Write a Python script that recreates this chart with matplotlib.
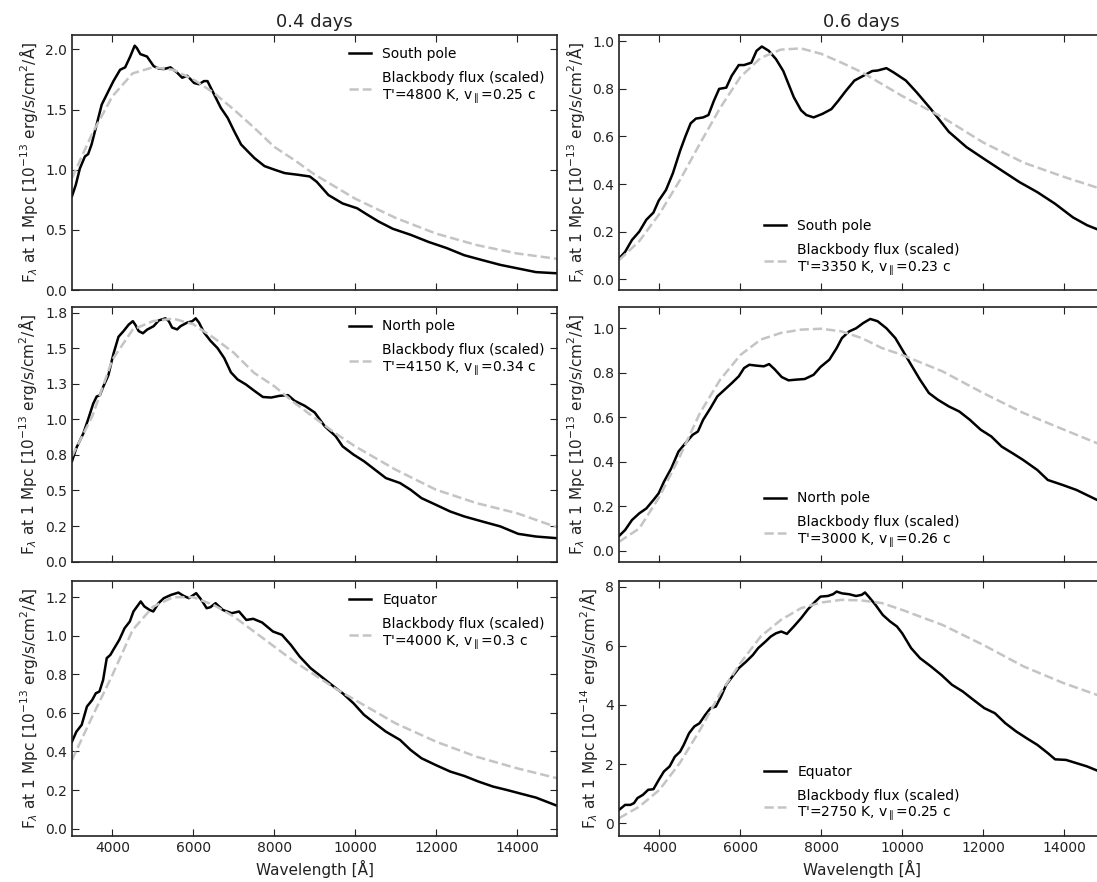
import numpy as np
import matplotlib.pyplot as plt
from matplotlib.ticker import FixedLocator, FixedFormatter

# ---- 0.4 days, south pole
wl_s04 = [3000, 3095, 3195, 3320, 3400, 3485, 3610, 3735, 3860, 4025, 4190, 4315, 4440, 4550, 4605,
          4690, 4855, 5020, 5145, 5270, 5435, 5600, 5725, 5850, 6020, 6140, 6265, 6350, 6515, 6680,
          6850, 7010, 7180, 7345, 7510, 7760, 8010, 8260, 8590, 8880, 9050, 9340, 9690, 10050,
          10310, 10580, 10930, 11370, 11820, 12260, 12700, 13140, 13590, 14030, 14470, 15000]
fl_s04 = [0.78, 0.875, 1.01, 1.11, 1.13, 1.21, 1.375, 1.54, 1.625, 1.736, 1.83, 1.85, 1.94, 2.03,
          2.01, 1.96, 1.94, 1.86, 1.84, 1.836, 1.85, 1.806, 1.764, 1.78, 1.72, 1.71, 1.736, 1.736,
          1.625, 1.514, 1.43, 1.32, 1.21, 1.153, 1.097, 1.03, 1.0, 0.972, 0.958, 0.944, 0.90, 0.79,
          0.72, 0.68, 0.625, 0.57, 0.51, 0.46, 0.40, 0.35, 0.29, 0.25, 0.21, 0.18, 0.15, 0.14]

# ---- 0.4 days, north pole
wl_n04 = [3000, 3110, 3280, 3400, 3525, 3610, 3690, 3775, 3900, 4025, 4150, 4275, 4400, 4505, 4565,
          4650, 4755, 4855, 5020, 5145, 5310, 5395, 5475, 5600, 5685, 5850, 5975, 6060, 6140, 6265,
          6430, 6600, 6765, 6930, 7095, 7300, 7510, 7720, 7925, 8130, 8340, 8505, 8755, 9000, 9250,
          9520, 9690, 9960, 10220, 10490, 10760, 11110, 11370, 11640, 11990, 12350, 12700, 13140,
          13590, 14030, 14470, 15000]
fl_n04 = [0.705, 0.80, 0.90, 1.0, 1.11, 1.16, 1.17, 1.23, 1.31, 1.46, 1.58, 1.62, 1.665, 1.69, 1.665,
          1.62, 1.605, 1.63, 1.655, 1.695, 1.71, 1.69, 1.645, 1.632, 1.655, 1.68, 1.69, 1.71, 1.68,
          1.61, 1.55, 1.50, 1.43, 1.33, 1.28, 1.245, 1.20, 1.157, 1.153, 1.165, 1.17, 1.13, 1.095,
          1.048, 0.951, 0.881, 0.81, 0.752, 0.705, 0.646, 0.587, 0.552, 0.505, 0.446, 0.40, 0.352,
          0.317, 0.282, 0.247, 0.195, 0.176, 0.164]

# ---- 0.4 days, equator
wl_e04 = [3000, 3110, 3240, 3370, 3500, 3590, 3680, 3770, 3860, 3950, 4030, 4170, 4300, 4430, 4520,
          4700, 4790, 4920, 5010, 5140, 5270, 5450, 5630, 5760, 5890, 6070, 6200, 6330, 6420, 6550,
          6730, 6950, 7130, 7310, 7480, 7700, 7970, 8190, 8410, 8630, 8900, 9160, 9470, 9690, 9960,
          10220, 10490, 10760, 11110, 11370, 11640, 11990, 12350, 12700, 13050, 13410, 13760,
          14120, 14470, 15000]
fl_e04 = [0.451, 0.503, 0.538, 0.633, 0.667, 0.702, 0.711, 0.771, 0.884, 0.901, 0.93, 0.979, 1.039,
          1.074, 1.126, 1.178, 1.152, 1.134, 1.126, 1.169, 1.195, 1.212, 1.224, 1.207, 1.195, 1.221,
          1.186, 1.143, 1.148, 1.169, 1.134, 1.117, 1.126, 1.082, 1.088, 1.069, 1.022, 1.005, 0.953,
          0.892, 0.832, 0.789, 0.737, 0.702, 0.65, 0.59, 0.546, 0.503, 0.46, 0.408, 0.365, 0.33,
          0.296, 0.273, 0.244, 0.218, 0.20, 0.18, 0.161, 0.118]

# ---- 0.6 days, south pole
wl_s06 = [3000, 3150, 3320, 3500, 3675, 3850, 3980, 4160, 4330, 4510, 4640, 4770, 4900, 5080, 5210,
          5345, 5475, 5650, 5785, 5960, 6090, 6270, 6400, 6530, 6700, 6880, 7060, 7190, 7320, 7500,
          7630, 7810, 8030, 8250, 8420, 8600, 8820, 9040, 9260, 9390, 9610, 9780, 10090, 10360,
          10710, 11150, 11590, 12030, 12460, 12900, 13340, 13780, 14220, 14570, 14820, 15000]
fl_s06 = [0.087, 0.115, 0.165, 0.20, 0.25, 0.28, 0.33, 0.375, 0.445, 0.54, 0.60, 0.655, 0.675, 0.68,
          0.69, 0.75, 0.80, 0.805, 0.855, 0.90, 0.90, 0.91, 0.96, 0.978, 0.96, 0.925, 0.875, 0.82,
          0.765, 0.71, 0.69, 0.68, 0.695, 0.715, 0.75, 0.79, 0.835, 0.855, 0.875, 0.877, 0.887,
          0.87, 0.835, 0.785, 0.715, 0.62, 0.555, 0.505, 0.457, 0.408, 0.366, 0.317, 0.26, 0.227,
          0.21, 0.198]

# ---- 0.6 days, north pole
wl_n06 = [3000, 3150, 3320, 3500, 3675, 3850, 3980, 4110, 4290, 4470, 4640, 4820, 4950, 5080, 5260,
          5430, 5610, 5790, 5960, 6090, 6220, 6400, 6580, 6710, 6840, 7020, 7190, 7370, 7590, 7810,
          7980, 8200, 8380, 8510, 8690, 8860, 9040, 9210, 9390, 9610, 9830, 10000, 10220, 10440,
          10660, 10880, 11150, 11410, 11670, 11940, 12200, 12460, 12730, 12990, 13340, 13600,
          13960, 14310, 14820, 15000]
fl_n06 = [0.066, 0.093, 0.138, 0.168, 0.19, 0.228, 0.258, 0.31, 0.37, 0.446, 0.483, 0.521, 0.536,
          0.589, 0.641, 0.694, 0.724, 0.754, 0.784, 0.821, 0.836, 0.832, 0.829, 0.839, 0.817, 0.781,
          0.766, 0.769, 0.772, 0.791, 0.826, 0.859, 0.911, 0.956, 0.986, 1.0, 1.024, 1.042, 1.032,
          1.0, 0.956, 0.904, 0.836, 0.769, 0.709, 0.679, 0.649, 0.626, 0.589, 0.544, 0.514, 0.468,
          0.438, 0.408, 0.363, 0.318, 0.296, 0.273, 0.228, 0.215]

# ---- 0.6 days, equator (units of 1e-14)
wl_e06 = [3000, 3150, 3280, 3370, 3455, 3590, 3720, 3850, 3980, 4110, 4250, 4380, 4510, 4600, 4730,
          4860, 4990, 5130, 5260, 5390, 5520, 5650, 5830, 5960, 6140, 6310, 6440, 6620, 6750, 6880,
          7010, 7150, 7320, 7500, 7670, 7850, 7980, 8160, 8290, 8380, 8510, 8690, 8860, 9000, 9080,
          9170, 9340, 9520, 9700, 9870, 10000, 10220, 10440, 10710, 10970, 11230, 11500, 11760,
          12030, 12290, 12550, 12820, 13080, 13340, 13600, 13780, 14050, 14310, 14570, 14820, 15000]
fl_e06 = [0.45, 0.62, 0.62, 0.68, 0.85, 0.96, 1.13, 1.15, 1.46, 1.75, 1.92, 2.25, 2.42, 2.65, 3.04,
          3.27, 3.38, 3.66, 3.89, 3.94, 4.28, 4.68, 5.01, 5.24, 5.46, 5.69, 5.92, 6.14, 6.31, 6.42,
          6.48, 6.40, 6.65, 6.93, 7.23, 7.49, 7.66, 7.68, 7.74, 7.83, 7.77, 7.74, 7.68, 7.72, 7.80,
          7.66, 7.38, 7.04, 6.82, 6.65, 6.42, 5.92, 5.58, 5.30, 5.01, 4.68, 4.45, 4.17, 3.89, 3.72,
          3.38, 3.10, 2.87, 2.65, 2.37, 2.16, 2.14, 2.03, 1.92, 1.78, 1.70]

# ---- scaled blackbody curves
wl_bb = [3000, 3500, 4000, 4500, 5000, 5500, 6000, 6500, 7000, 7500, 8000, 8500, 9000, 9500, 10000,
         11000, 12000, 13000, 14000, 15000]
bb_s04 = [0.93, 1.30, 1.61, 1.80, 1.85, 1.83, 1.75, 1.64, 1.50, 1.35, 1.19, 1.08, 0.96, 0.86, 0.76,
          0.60, 0.47, 0.375, 0.305, 0.26]
bb_n04 = [0.74, 1.02, 1.42, 1.63, 1.69, 1.708, 1.668, 1.574, 1.468, 1.327, 1.233, 1.116, 1.01, 0.904,
          0.81, 0.646, 0.505, 0.411, 0.34, 0.24]
bb_e04 = [0.356, 0.58, 0.797, 1.03, 1.15, 1.20, 1.20, 1.16, 1.10, 1.022, 0.944, 0.866, 0.797, 0.728,
          0.667, 0.546, 0.451, 0.373, 0.313, 0.261]
bb_s06 = [0.08, 0.16, 0.275, 0.415, 0.57, 0.72, 0.85, 0.93, 0.965, 0.97, 0.947, 0.91, 0.87, 0.82,
          0.77, 0.68, 0.575, 0.49, 0.43, 0.375]
bb_n06 = [0.04, 0.10, 0.243, 0.423, 0.619, 0.769, 0.88, 0.949, 0.979, 0.994, 0.998, 0.986, 0.956,
          0.911, 0.88, 0.806, 0.709, 0.619, 0.544, 0.47]
bb_e06 = [0.17, 0.56, 1.13, 2.03, 3.15, 4.39, 5.41, 6.31, 6.87, 7.27, 7.46, 7.55, 7.53, 7.44, 7.21,
          6.70, 6.03, 5.30, 4.73, 4.25]

panels = [
    # col, row, wl, flux, bb, name, T', v, exponent, ylim, yticks, yticklabels
    (0, 0, wl_s04, fl_s04, bb_s04, 'South pole', 4800, '0.25', -13, (0, 2.12),
     [0, 0.5, 1.0, 1.5, 2.0], None),
    (0, 1, wl_n04, fl_n04, bb_n04, 'North pole', 4150, '0.34', -13, (-0.005, 1.79),
     [0, 0.25, 0.5, 0.75, 1.0, 1.25, 1.5, 1.75],
     ['0.0', '0.2', '0.5', '0.8', '1.0', '1.3', '1.5', '1.8']),
    (0, 2, wl_e04, fl_e04, bb_e04, 'Equator', 4000, '0.3', -13, (-0.038, 1.286),
     [0, 0.2, 0.4, 0.6, 0.8, 1.0, 1.2], None),
    (1, 0, wl_s06, fl_s06, bb_s06, 'South pole', 3350, '0.23', -13, (-0.046, 1.027),
     [0, 0.2, 0.4, 0.6, 0.8, 1.0], None),
    (1, 1, wl_n06, fl_n06, bb_n06, 'North pole', 3000, '0.26', -13, (-0.052, 1.096),
     [0, 0.2, 0.4, 0.6, 0.8, 1.0], None),
    (1, 2, wl_e06, fl_e06, bb_e06, 'Equator', 2750, '0.25', -14, (-0.43, 8.2),
     [0, 2, 4, 6, 8], ['0', '2', '4', '6', '8']),
]

fig = plt.figure(figsize=(10.97, 8.82), dpi=100)
lefts = [0.0656, 0.5643]
bottoms = [0.671, 0.3625, 0.0522]
w, h = 0.4425, 0.2895
dark = '#222222'

for col, row, wl, fl, bb, name, temp, vel, expo, ylim, yt, ytl in panels:
    ax = fig.add_axes([lefts[col], bottoms[row], w, h])
    ax.plot(wl, fl, color='black', lw=1.8, label=name)
    ax.plot(wl_bb, bb, color='#c4c4c4', lw=1.8, ls='--',
            label='Blackbody flux (scaled)\n' + "T'=%d K, v$_\\parallel$=%s c" % (temp, vel))
    ax.set_xlim(3000, 15000)
    ax.set_ylim(*ylim)
    ax.xaxis.set_major_locator(FixedLocator([4000, 6000, 8000, 10000, 12000, 14000]))
    ax.yaxis.set_major_locator(FixedLocator(yt))
    if ytl is None:
        ytl = ['%.1f' % v for v in yt]
    ax.yaxis.set_major_formatter(FixedFormatter(ytl))
    ax.tick_params(direction='in', top=True, right=True, length=5, labelsize=10, colors=dark)
    for sp in ax.spines.values():
        sp.set_linewidth(1.2)
        sp.set_color(dark)
    ax.set_ylabel(r'F$_\lambda$ at 1 Mpc [10$^{%d}$ erg/s/cm$^2$/Å]' % expo, fontsize=11,
                  color=dark)
    if row == 2:
        ax.set_xlabel('Wavelength [Å]', fontsize=11, color=dark)
    else:
        ax.set_xticklabels([])
    if row == 0:
        ax.set_title(['0.4 days', '0.6 days'][col], fontsize=13, color=dark)
    loc = 'upper right' if col == 0 else 'lower center'
    ax.legend(loc=loc, frameon=False, fontsize=10, handlelength=1.6, labelspacing=0.7)

fig.savefig('out.png', dpi=100)
